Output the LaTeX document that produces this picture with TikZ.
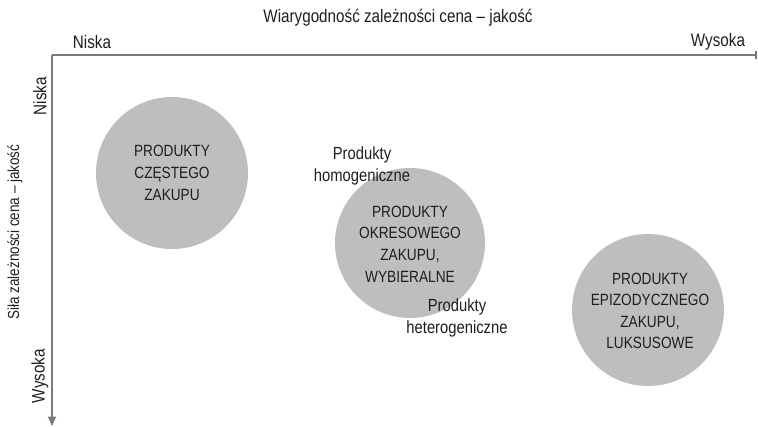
\documentclass[tikz,border=0pt]{standalone}
\usepackage{fontspec}
\setmainfont{Liberation Sans}[FakeStretch=0.84]
\usetikzlibrary{arrows.meta}
\definecolor{axisgray}{HTML}{7A7A7A}
\definecolor{discgray}{HTML}{BEBEC0}
\definecolor{inkgray}{HTML}{1E1E1E}
\begin{document}
\begin{tikzpicture}[x=0.75pt,y=-0.75pt,
  axis/.style={draw=axisgray,line width=0.9pt},
  disc/.style={circle,fill=discgray,minimum size=#1*0.75pt,inner sep=0pt},
  axlabel/.style={font=\fontsize{13.6}{15}\selectfont,text=inkgray,inner sep=0pt},
  disclabel/.style={font=\fontsize{12.2}{16.2}\selectfont,text=inkgray,align=center,inner sep=0pt},
  sidelabel/.style={font=\fontsize{13.2}{16.5}\selectfont,text=inkgray,align=center,inner sep=0pt}]
\useasboundingbox (0,0) rectangle (758,427);
% axes
\coordinate (origin) at (52,55);
\coordinate (xend) at (756,55);
\coordinate (yend) at (52,426);
\draw[axis] (origin) -- (xend);
\draw[axis] (756,51) -- (756,59);
\draw[axis,-{Triangle[length=7pt,width=6pt]}] (origin) -- (yend);
% axis titles
\node[axlabel] (xtitle) at (398,18) {Wiarygodność zależności cena – jakość};
\node[axlabel] (xlow) at (92,42) {Niska};
\node[axlabel] (xhigh) at (718,42) {Wysoka};
\node[axlabel,font=\fontsize{12}{14}\selectfont,rotate=90] (ytitle) at (15,232) {Siła zależności cena – jakość};
\node[axlabel,rotate=90] (ylow) at (40,96) {Niska};
\node[axlabel,rotate=90] (yhigh) at (40,376) {Wysoka};
% product groups
\node[disc=152] (c1) at (172,173) {};
\node[disc=150] (c2) at (410,243) {};
\node[disc=152] (c3) at (648,310) {};
\node[disclabel] (t1) at (c1) {PRODUKTY\\CZĘSTEGO\\ZAKUPU};
\node[disclabel] (t2) at (410,244) {PRODUKTY\\OKRESOWEGO\\ZAKUPU,\\WYBIERALNE};
\node[disclabel] (t3) at (650,311) {PRODUKTY\\EPIZODYCZNEGO\\ZAKUPU,\\LUKSUSOWE};
\node[sidelabel] (homo) at (362,166) {Produkty\\homogeniczne};
\node[sidelabel] (hetero) at (457,318) {Produkty\\heterogeniczne};
\end{tikzpicture}
\end{document}
